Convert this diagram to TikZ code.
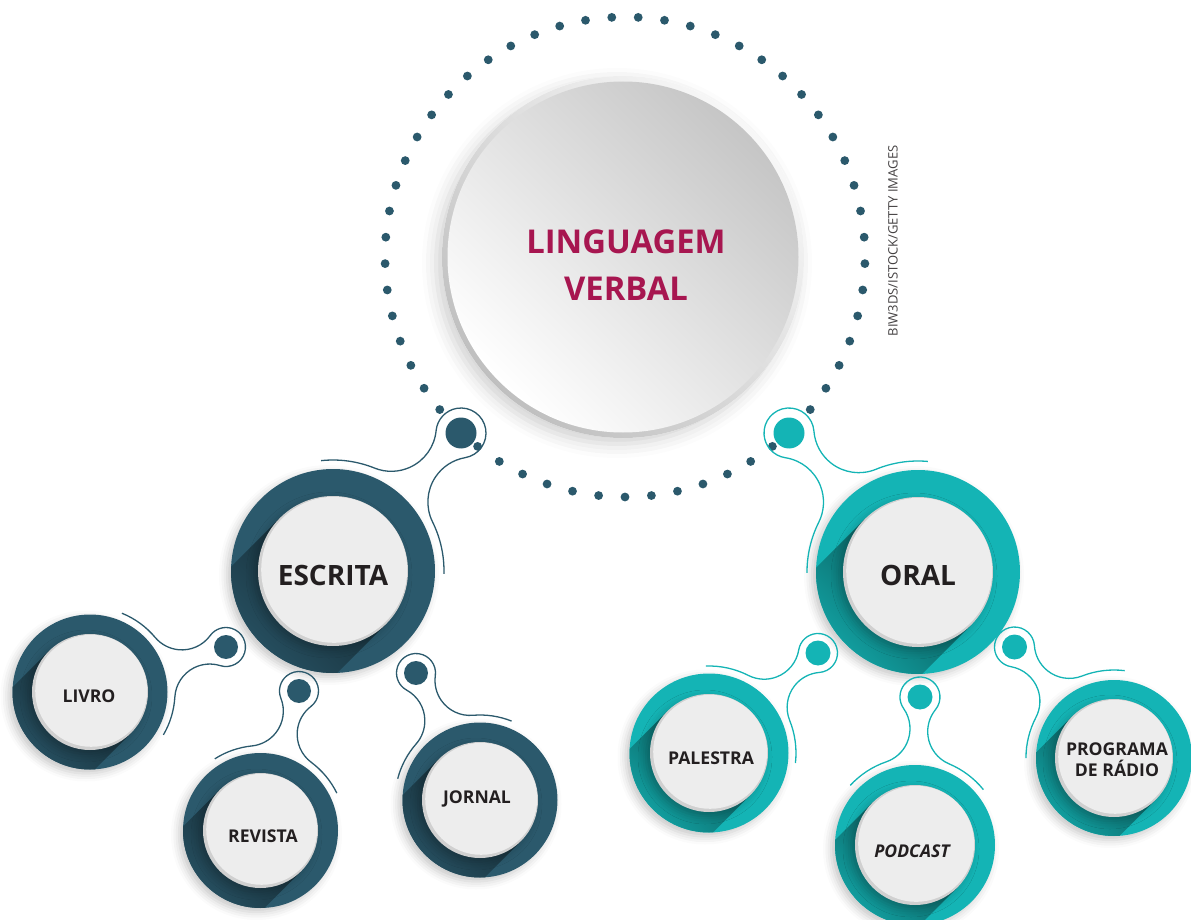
\documentclass[tikz,border=0pt]{standalone}
\usepackage{fontspec}
\setmainfont{Open Sans}
\usetikzlibrary{calc,shadows.blur}
\definecolor{DeepTeal}{HTML}{2B596C}
\definecolor{BrightTeal}{HTML}{14B4B5}
\definecolor{Wine}{HTML}{A71650}
\definecolor{Ink}{HTML}{231F20}
\definecolor{DiscGray}{HTML}{EDEDED}
\definecolor{RimGray}{HTML}{D0D0D0}
\tikzset{
    hubtext/.style = {font=\bfseries\fontsize{16.4}{23.5}\selectfont, text=Wine, align=center},
    maintext/.style = {font=\bfseries\fontsize{14}{16}\selectfont, text=Ink},
    leaftext/.style = {font=\bfseries\fontsize{8.8}{10.6}\selectfont, text=Ink, align=center},
    credit/.style = {font=\fontsize{6.5}{7}\selectfont, text=Ink!85, rotate=90},
    link/.style = {line width=0.65pt},
    softshadow/.style = {blur shadow={shadow xshift=-2pt, shadow yshift=-2pt,
        shadow opacity=22, shadow blur radius=4pt}}
}
% ring with disc: x, y, outer radius, inner radius, colour
\newcommand{\bubble}[5]{%
  \fill[#5, softshadow] (#1,#2) circle[radius=#3];
  \begin{scope}
    \clip (#1,#2) circle[radius=#3];
    \shade[top color=#5!40!black, bottom color=#5, shading angle=-45]
      ($(#1,#2)+(225:#4)$) -- ++(-0.72*#3,0.72*#3) -- ($(#1,#2)+(45:#4)+(-0.72*#3,0.72*#3)$)
      -- ($(#1,#2)+(45:#4)$) -- cycle;
  \end{scope}
  \fill[RimGray, softshadow] (#1,#2) circle[radius=#4];
  \fill[DiscGray] (#1+1.2,#2-1.2) circle[radius=#4-2];
}
% outline round a ring: Ox, Oy, arc radius, Sx, Sy, pin radius, fillet, start, end
\newcommand{\pinlink}[9]{%
  \pgfmathsetmacro{\pnDx}{(#4-#1)/100}
  \pgfmathsetmacro{\pnDy}{(#5-#2)/100}
  \pgfmathsetmacro{\pnD}{veclen(\pnDx,\pnDy)}
  \pgfmathsetmacro{\pnPh}{atan2(\pnDy,\pnDx)}
  \pgfmathsetmacro{\pnRa}{(#3+#7)/100}
  \pgfmathsetmacro{\pnRb}{(#6+#7)/100}
  \pgfmathsetmacro{\pnAl}{acos((\pnRa*\pnRa+\pnD*\pnD-\pnRb*\pnRb)/(2*\pnRa*\pnD))}
  \pgfmathsetmacro{\pnBe}{acos((\pnRb*\pnRb+\pnD*\pnD-\pnRa*\pnRa)/(2*\pnRb*\pnD))}
  \draw[link] (#1,#2) ++(#8:#3)
    arc[start angle=#8, end angle=\pnPh+\pnAl, radius=#3]
    arc[start angle=\pnPh+\pnAl+180, end angle=\pnPh-\pnBe+360, radius=#7]
    arc[start angle=\pnPh+180-\pnBe, end angle=\pnPh-180+\pnBe, radius=#6]
    arc[start angle=\pnPh+\pnBe, end angle=\pnPh+180-\pnAl, radius=#7]
    arc[start angle=\pnPh-\pnAl, end angle=#9, radius=#3];
}

\begin{document}
\begin{tikzpicture}[x=0.5pt, y=-0.5pt]
\useasboundingbox (0,0) rectangle (1191,920);
% dotted frame
\foreach \i in {0,...,56}{
  \ifnum\i=7 \else\ifnum\i=50 \else
    \fill[DeepTeal] (625,257) ++({90+\i*(360/57)}:240) circle[radius=4.4];
  \fi\fi
}
% hub
\fill[white, blur shadow={shadow xshift=-3pt, shadow yshift=-3pt,
    shadow opacity=18, shadow blur radius=7pt}] (623,257) circle[radius=181];
\shade[top color=gray!6, bottom color=gray!50, shading angle=-45] (623,257) circle[radius=181];
\shade[top color=gray!45, bottom color=white, shading angle=-45] (623,257) circle[radius=175.5];
\node[hubtext] (hub) at (626,265) {LINGUAGEM\\VERBAL};
\node[credit] (credit) at (893,241) {BIW3DS/ISTOCK/GETTY IMAGES};

% rings
\bubble{333}{571}{102}{75}{DeepTeal}
\bubble{918}{572}{102}{75}{BrightTeal}
\bubble{90}{692}{77.5}{58}{DeepTeal}
\bubble{260.5}{830.5}{77.5}{57.5}{DeepTeal}
\bubble{480}{800}{77.5}{58}{DeepTeal}
\bubble{709}{753}{79.5}{59}{BrightTeal}
\bubble{915}{845}{80}{60}{BrightTeal}
\bubble{1114}{758}{78}{59}{BrightTeal}

\node[maintext] (escrita) at (333,575) {ESCRITA};
\node[maintext] (oral) at (918,575) {ORAL};
\node[leaftext] (livro) at (89,696) {LIVRO};
\node[leaftext] (revista) at (263,836) {REVISTA};
\node[leaftext] (jornal) at (477,799) {JORNAL};
\node[leaftext] (palestra) at (711,758) {PALESTRA};
\node[leaftext, font=\bfseries\itshape\fontsize{8.8}{10.6}\selectfont] (podcast) at (912,851) {PODCAST};
\node[leaftext] (radio) at (1117,760) {PROGRAMA\\DE RÁDIO};

% pins
\begin{scope}[DeepTeal]
  \pinlink{333}{571}{111}{461}{433}{25}{45}{1.5}{-96.2}
  \fill (461,433) circle[radius=15.5];
  \pinlink{90}{692}{85}{226}{647}{19.5}{35}{30.3}{-67.9}
  \fill (226,647) circle[radius=12];
  \pinlink{260.5}{830.5}{85}{299}{691}{19.5}{35}{-26.1}{-122.5}
  \fill (299,691) circle[radius=12];
  \pinlink{480}{800}{85}{416}{673}{19.5}{35}{-68.2}{-165.5}
  \fill (416,673) circle[radius=12];
\end{scope}
\begin{scope}[BrightTeal]
  \pinlink{918}{572}{111}{789}{433}{25}{45}{-84.9}{-180.5}
  \fill (789,433) circle[radius=15.5];
  \pinlink{709}{753}{87}{818}{653}{19.5}{35}{6.6}{-92}
  \fill (818,653) circle[radius=12.5];
  \pinlink{915}{845}{88}{920}{697}{20}{35}{-39}{-137.3}
  \fill (920,697) circle[radius=12.5];
  \pinlink{1114}{758}{88}{1014.5}{647}{20}{35}{-83}{-180}
  \fill (1014.5,647) circle[radius=12.5];
\end{scope}
\end{tikzpicture}
\end{document}
